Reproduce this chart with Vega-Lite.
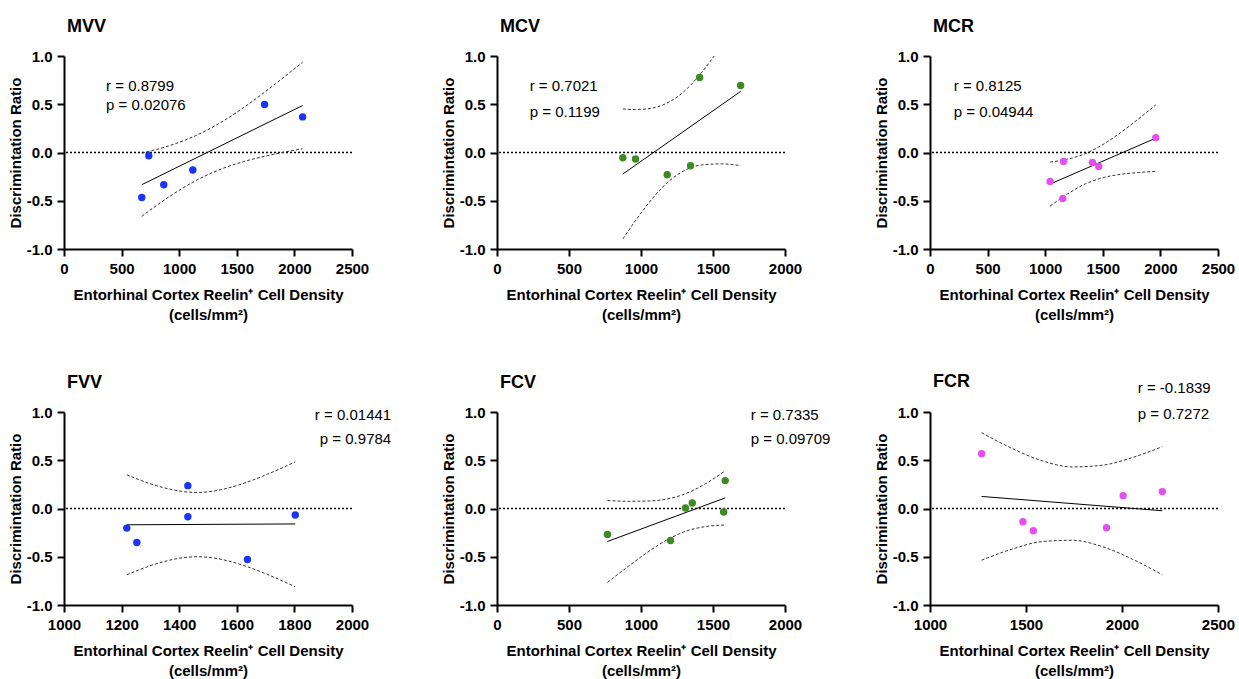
{
"$schema":"https://vega.github.io/schema/vega-lite/v6.json",
"background":"white",
"padding":{"left":8,"top":18,"right":5,"bottom":5},
"config":{
 "view":{"stroke":null},
 "font":"Liberation Sans",
 "axis":{"domainColor":"black","domainWidth":2,"tickColor":"black","tickWidth":2,"tickSize":7,"labelPadding":5,"labelFont":"Liberation Sans","labelFontWeight":"bold","labelFontSize":15,"labelColor":"black","titleFont":"Liberation Sans","titleFontWeight":"bold","titleFontSize":15,"titleColor":"black","grid":false,"labelFlush":false,"labelOverlap":false},
 "axisX":{"titleLineHeight":20,"titlePadding":11},
 "axisY":{"titlePadding":3},
 "title":{"anchor":"start","frame":"group","font":"Liberation Sans","fontSize":18,"fontWeight":"bold","color":"black","offset":13,"dx":3}
},
"datasets":{
 "pts":[
  {"panel":"MVV","x":675,"y":-0.466},{"panel":"MVV","x":736,"y":-0.033},{"panel":"MVV","x":866,"y":-0.334},{"panel":"MVV","x":1118,"y":-0.182},{"panel":"MVV","x":1741,"y":0.497},{"panel":"MVV","x":2071,"y":0.369},
  {"panel":"MCV","x":874,"y":-0.054},{"panel":"MCV","x":962,"y":-0.068},{"panel":"MCV","x":1182,"y":-0.230},{"panel":"MCV","x":1344,"y":-0.137},{"panel":"MCV","x":1407,"y":0.778},{"panel":"MCV","x":1692,"y":0.695},
  {"panel":"MCR","x":1043,"y":-0.300},{"panel":"MCR","x":1159,"y":-0.092},{"panel":"MCR","x":1153,"y":-0.477},{"panel":"MCR","x":1410,"y":-0.102},{"panel":"MCR","x":1465,"y":-0.144},{"panel":"MCR","x":1960,"y":0.154},
  {"panel":"FVV","x":1218,"y":-0.203},{"panel":"FVV","x":1253,"y":-0.352},{"panel":"FVV","x":1430,"y":0.237},{"panel":"FVV","x":1430,"y":-0.085},{"panel":"FVV","x":1637,"y":-0.529},{"panel":"FVV","x":1803,"y":-0.068},
  {"panel":"FCV","x":767,"y":-0.269},{"panel":"FCV","x":1205,"y":-0.331},{"panel":"FCV","x":1309,"y":0.005},{"panel":"FCV","x":1356,"y":0.057},{"panel":"FCV","x":1574,"y":-0.036},{"panel":"FCV","x":1585,"y":0.289},
  {"panel":"FCR","x":1269,"y":0.567},{"panel":"FCR","x":1484,"y":-0.137},{"panel":"FCR","x":1538,"y":-0.230},{"panel":"FCR","x":1919,"y":-0.199},{"panel":"FCR","x":2006,"y":0.133},{"panel":"FCR","x":2210,"y":0.175}
 ],
 "lines":[
  {"panel":"MVV","kind":"fit","x":675,"y":-0.334},{"panel":"MVV","kind":"fit","x":2071,"y":0.487},
  {"panel":"MVV","kind":"upper","x":675,"y":-0.006},{"panel":"MVV","kind":"upper","x":908,"y":0.068},{"panel":"MVV","kind":"upper","x":1140,"y":0.173},{"panel":"MVV","kind":"upper","x":1373,"y":0.320},{"panel":"MVV","kind":"upper","x":1606,"y":0.505},{"panel":"MVV","kind":"upper","x":1838,"y":0.714},{"panel":"MVV","kind":"upper","x":2071,"y":0.935},
  {"panel":"MVV","kind":"lower","x":675,"y":-0.662},{"panel":"MVV","kind":"lower","x":908,"y":-0.462},{"panel":"MVV","kind":"lower","x":1140,"y":-0.294},{"panel":"MVV","kind":"lower","x":1373,"y":-0.168},{"panel":"MVV","kind":"lower","x":1606,"y":-0.079},{"panel":"MVV","kind":"lower","x":1838,"y":-0.014},{"panel":"MVV","kind":"lower","x":2071,"y":0.039},
  {"panel":"MCV","kind":"fit","x":874,"y":-0.223},{"panel":"MCV","kind":"fit","x":1692,"y":0.633},
  {"panel":"MCV","kind":"upper","x":874,"y":0.451},{"panel":"MCV","kind":"upper","x":940,"y":0.446},{"panel":"MCV","kind":"upper","x":1010,"y":0.448},{"panel":"MCV","kind":"upper","x":1080,"y":0.461},{"panel":"MCV","kind":"upper","x":1147,"y":0.490},{"panel":"MCV","kind":"upper","x":1283,"y":0.612},{"panel":"MCV","kind":"upper","x":1419,"y":0.825},{"panel":"MCV","kind":"upper","x":1480,"y":0.942},{"panel":"MCV","kind":"upper","x":1508,"y":1.0},
  {"panel":"MCV","kind":"lower","x":874,"y":-0.896},{"panel":"MCV","kind":"lower","x":940,"y":-0.752},{"panel":"MCV","kind":"lower","x":1010,"y":-0.608},{"panel":"MCV","kind":"lower","x":1080,"y":-0.475},{"panel":"MCV","kind":"lower","x":1147,"y":-0.364},{"panel":"MCV","kind":"lower","x":1283,"y":-0.202},{"panel":"MCV","kind":"lower","x":1419,"y":-0.129},{"panel":"MCV","kind":"lower","x":1556,"y":-0.118},{"panel":"MCV","kind":"lower","x":1692,"y":-0.136},
  {"panel":"MCR","kind":"fit","x":1043,"y":-0.327},{"panel":"MCR","kind":"fit","x":1960,"y":0.149},
  {"panel":"MCR","kind":"upper","x":1043,"y":-0.099},{"panel":"MCR","kind":"upper","x":1196,"y":-0.069},{"panel":"MCR","kind":"upper","x":1349,"y":-0.011},{"panel":"MCR","kind":"upper","x":1502,"y":0.083},{"panel":"MCR","kind":"upper","x":1654,"y":0.206},{"panel":"MCR","kind":"upper","x":1807,"y":0.346},{"panel":"MCR","kind":"upper","x":1960,"y":0.493},
  {"panel":"MCR","kind":"lower","x":1043,"y":-0.555},{"panel":"MCR","kind":"lower","x":1196,"y":-0.428},{"panel":"MCR","kind":"lower","x":1349,"y":-0.325},{"panel":"MCR","kind":"lower","x":1502,"y":-0.261},{"panel":"MCR","kind":"lower","x":1654,"y":-0.226},{"panel":"MCR","kind":"lower","x":1807,"y":-0.208},{"panel":"MCR","kind":"lower","x":1960,"y":-0.195},
  {"panel":"FVV","kind":"fit","x":1218,"y":-0.169},{"panel":"FVV","kind":"fit","x":1803,"y":-0.160},
  {"panel":"FVV","kind":"upper","x":1218,"y":0.349},{"panel":"FVV","kind":"upper","x":1316,"y":0.241},{"panel":"FVV","kind":"upper","x":1413,"y":0.176},{"panel":"FVV","kind":"upper","x":1462,"y":0.166},{"panel":"FVV","kind":"upper","x":1511,"y":0.177},{"panel":"FVV","kind":"upper","x":1608,"y":0.245},{"panel":"FVV","kind":"upper","x":1706,"y":0.355},{"panel":"FVV","kind":"upper","x":1803,"y":0.483},
  {"panel":"FVV","kind":"lower","x":1218,"y":-0.687},{"panel":"FVV","kind":"lower","x":1316,"y":-0.577},{"panel":"FVV","kind":"lower","x":1413,"y":-0.510},{"panel":"FVV","kind":"lower","x":1462,"y":-0.500},{"panel":"FVV","kind":"lower","x":1511,"y":-0.509},{"panel":"FVV","kind":"lower","x":1608,"y":-0.575},{"panel":"FVV","kind":"lower","x":1706,"y":-0.683},{"panel":"FVV","kind":"lower","x":1803,"y":-0.811},
  {"panel":"FCV","kind":"fit","x":767,"y":-0.342},{"panel":"FCV","kind":"fit","x":1585,"y":0.110},
  {"panel":"FCV","kind":"upper","x":767,"y":0.083},{"panel":"FCV","kind":"upper","x":903,"y":0.075},{"panel":"FCV","kind":"upper","x":1040,"y":0.077},{"panel":"FCV","kind":"upper","x":1176,"y":0.097},{"panel":"FCV","kind":"upper","x":1312,"y":0.155},{"panel":"FCV","kind":"upper","x":1449,"y":0.257},{"panel":"FCV","kind":"upper","x":1585,"y":0.391},
  {"panel":"FCV","kind":"lower","x":767,"y":-0.766},{"panel":"FCV","kind":"lower","x":903,"y":-0.609},{"panel":"FCV","kind":"lower","x":1040,"y":-0.459},{"panel":"FCV","kind":"lower","x":1176,"y":-0.329},{"panel":"FCV","kind":"lower","x":1312,"y":-0.235},{"panel":"FCV","kind":"lower","x":1449,"y":-0.187},{"panel":"FCV","kind":"lower","x":1585,"y":-0.171},
  {"panel":"FCR","kind":"fit","x":1269,"y":0.125},{"panel":"FCR","kind":"fit","x":2210,"y":-0.023},
  {"panel":"FCR","kind":"upper","x":1269,"y":0.785},{"panel":"FCR","kind":"upper","x":1426,"y":0.624},{"panel":"FCR","kind":"upper","x":1583,"y":0.495},{"panel":"FCR","kind":"upper","x":1740,"y":0.431},{"panel":"FCR","kind":"upper","x":1896,"y":0.448},{"panel":"FCR","kind":"upper","x":2053,"y":0.527},{"panel":"FCR","kind":"upper","x":2210,"y":0.641},
  {"panel":"FCR","kind":"lower","x":1269,"y":-0.535},{"panel":"FCR","kind":"lower","x":1426,"y":-0.422},{"panel":"FCR","kind":"lower","x":1583,"y":-0.343},{"panel":"FCR","kind":"lower","x":1740,"y":-0.329},{"panel":"FCR","kind":"lower","x":1896,"y":-0.394},{"panel":"FCR","kind":"lower","x":2053,"y":-0.524},{"panel":"FCR","kind":"lower","x":2210,"y":-0.687}
 ],
 "txt":[
  {"panel":"MVV","x":365,"y":0.64,"label":"r = 0.8799"},{"panel":"MVV","x":365,"y":0.44,"label":"p = 0.02076"},
  {"panel":"MCV","x":227,"y":0.634,"label":"r = 0.7021"},{"panel":"MCV","x":227,"y":0.365,"label":"p = 0.1199"},
  {"panel":"MCR","x":206,"y":0.634,"label":"r = 0.8125"},{"panel":"MCR","x":206,"y":0.365,"label":"p = 0.04944"},
  {"panel":"FVV","x":2136,"y":0.92,"label":"r = 0.01441"},{"panel":"FVV","x":2136,"y":0.67,"label":"p = 0.9784"},
  {"panel":"FCV","x":1762,"y":0.92,"label":"r = 0.7335"},{"panel":"FCV","x":1762,"y":0.67,"label":"p = 0.09709"},
  {"panel":"FCR","x":2082,"y":1.197,"label":"r = -0.1839"},{"panel":"FCR","x":2082,"y":0.923,"label":"p = 0.7272"}
 ]
},
"columns":3,
"spacing":{"row":163,"column":145},
"bounds":"flush",
"concat":[
 {"width":288,"height":193,"title":{"text":"MVV"},
  "layer":[
   {"data":{"values":[{"y":0}]},"mark":{"type":"rule","strokeDash":[2,2],"strokeWidth":1.5,"color":"black"},"encoding":{"y":{"field":"y","type":"quantitative","scale":{"domain":[-1,1],"nice":false},"axis":{"values":[-1,-0.5,0,0.5,1],"labelExpr":"datum.value < 0 ? '-' + format(-datum.value, '.1f') : format(datum.value, '.1f')","title":"Discrimintation Ratio"}}}},
   {"data":{"name":"lines"},"transform":[{"filter":"datum.panel==='MVV' && datum.kind!=='fit'"}],"mark":{"type":"line","interpolate":"monotone","strokeDash":[3,2],"strokeWidth":1,"color":"#333333"},"encoding":{"x":{"field":"x","type":"quantitative","scale":{"domain":[0,2500],"nice":false,"zero":false},"axis":{"values":[0,500,1000,1500,2000,2500],"format":"d","title":["Entorhinal Cortex Reelin⁺ Cell Density","(cells/mm²)"]}},"y":{"field":"y","type":"quantitative","scale":{"domain":[-1,1],"nice":false},"axis":{"values":[-1,-0.5,0,0.5,1],"labelExpr":"datum.value < 0 ? '-' + format(-datum.value, '.1f') : format(datum.value, '.1f')","title":"Discrimintation Ratio"}},"detail":{"field":"kind"}}},
   {"data":{"name":"lines"},"transform":[{"filter":"datum.panel==='MVV' && datum.kind==='fit'"}],"mark":{"type":"line","strokeWidth":1,"color":"black"},"encoding":{"x":{"field":"x","type":"quantitative","scale":{"domain":[0,2500],"nice":false,"zero":false},"axis":{"values":[0,500,1000,1500,2000,2500],"format":"d","title":["Entorhinal Cortex Reelin⁺ Cell Density","(cells/mm²)"]}},"y":{"field":"y","type":"quantitative","scale":{"domain":[-1,1],"nice":false},"axis":{"values":[-1,-0.5,0,0.5,1],"labelExpr":"datum.value < 0 ? '-' + format(-datum.value, '.1f') : format(datum.value, '.1f')","title":"Discrimintation Ratio"}}}},
   {"data":{"name":"pts"},"transform":[{"filter":"datum.panel==='MVV'"}],"mark":{"type":"circle","size":55,"opacity":1,"color":"#1b34f2"},"encoding":{"x":{"field":"x","type":"quantitative","scale":{"domain":[0,2500],"nice":false,"zero":false},"axis":{"values":[0,500,1000,1500,2000,2500],"format":"d","title":["Entorhinal Cortex Reelin⁺ Cell Density","(cells/mm²)"]}},"y":{"field":"y","type":"quantitative","scale":{"domain":[-1,1],"nice":false},"axis":{"values":[-1,-0.5,0,0.5,1],"labelExpr":"datum.value < 0 ? '-' + format(-datum.value, '.1f') : format(datum.value, '.1f')","title":"Discrimintation Ratio"}}}},
   {"data":{"name":"txt"},"transform":[{"filter":"datum.panel==='MVV'"}],"mark":{"type":"text","align":"left","baseline":"alphabetic","fontSize":15,"font":"Liberation Sans","color":"black"},"encoding":{"x":{"field":"x","type":"quantitative","scale":{"domain":[0,2500],"nice":false,"zero":false},"axis":{"values":[0,500,1000,1500,2000,2500],"format":"d","title":["Entorhinal Cortex Reelin⁺ Cell Density","(cells/mm²)"]}},"y":{"field":"y","type":"quantitative","scale":{"domain":[-1,1],"nice":false},"axis":{"values":[-1,-0.5,0,0.5,1],"labelExpr":"datum.value < 0 ? '-' + format(-datum.value, '.1f') : format(datum.value, '.1f')","title":"Discrimintation Ratio"}},"text":{"field":"label"}}}
  ]},
 {"width":288,"height":193,"title":{"text":"MCV"},
  "layer":[
   {"data":{"values":[{"y":0}]},"mark":{"type":"rule","strokeDash":[2,2],"strokeWidth":1.5,"color":"black"},"encoding":{"y":{"field":"y","type":"quantitative","scale":{"domain":[-1,1],"nice":false},"axis":{"values":[-1,-0.5,0,0.5,1],"labelExpr":"datum.value < 0 ? '-' + format(-datum.value, '.1f') : format(datum.value, '.1f')","title":"Discrimintation Ratio"}}}},
   {"data":{"name":"lines"},"transform":[{"filter":"datum.panel==='MCV' && datum.kind!=='fit'"}],"mark":{"type":"line","interpolate":"monotone","strokeDash":[3,2],"strokeWidth":1,"color":"#333333"},"encoding":{"x":{"field":"x","type":"quantitative","scale":{"domain":[0,2000],"nice":false,"zero":false},"axis":{"values":[0,500,1000,1500,2000],"format":"d","title":["Entorhinal Cortex Reelin⁺ Cell Density","(cells/mm²)"]}},"y":{"field":"y","type":"quantitative","scale":{"domain":[-1,1],"nice":false},"axis":{"values":[-1,-0.5,0,0.5,1],"labelExpr":"datum.value < 0 ? '-' + format(-datum.value, '.1f') : format(datum.value, '.1f')","title":"Discrimintation Ratio"}},"detail":{"field":"kind"}}},
   {"data":{"name":"lines"},"transform":[{"filter":"datum.panel==='MCV' && datum.kind==='fit'"}],"mark":{"type":"line","strokeWidth":1,"color":"black"},"encoding":{"x":{"field":"x","type":"quantitative","scale":{"domain":[0,2000],"nice":false,"zero":false},"axis":{"values":[0,500,1000,1500,2000],"format":"d","title":["Entorhinal Cortex Reelin⁺ Cell Density","(cells/mm²)"]}},"y":{"field":"y","type":"quantitative","scale":{"domain":[-1,1],"nice":false},"axis":{"values":[-1,-0.5,0,0.5,1],"labelExpr":"datum.value < 0 ? '-' + format(-datum.value, '.1f') : format(datum.value, '.1f')","title":"Discrimintation Ratio"}}}},
   {"data":{"name":"pts"},"transform":[{"filter":"datum.panel==='MCV'"}],"mark":{"type":"circle","size":55,"opacity":1,"color":"#3b8a22"},"encoding":{"x":{"field":"x","type":"quantitative","scale":{"domain":[0,2000],"nice":false,"zero":false},"axis":{"values":[0,500,1000,1500,2000],"format":"d","title":["Entorhinal Cortex Reelin⁺ Cell Density","(cells/mm²)"]}},"y":{"field":"y","type":"quantitative","scale":{"domain":[-1,1],"nice":false},"axis":{"values":[-1,-0.5,0,0.5,1],"labelExpr":"datum.value < 0 ? '-' + format(-datum.value, '.1f') : format(datum.value, '.1f')","title":"Discrimintation Ratio"}}}},
   {"data":{"name":"txt"},"transform":[{"filter":"datum.panel==='MCV'"}],"mark":{"type":"text","align":"left","baseline":"alphabetic","fontSize":15,"font":"Liberation Sans","color":"black"},"encoding":{"x":{"field":"x","type":"quantitative","scale":{"domain":[0,2000],"nice":false,"zero":false},"axis":{"values":[0,500,1000,1500,2000],"format":"d","title":["Entorhinal Cortex Reelin⁺ Cell Density","(cells/mm²)"]}},"y":{"field":"y","type":"quantitative","scale":{"domain":[-1,1],"nice":false},"axis":{"values":[-1,-0.5,0,0.5,1],"labelExpr":"datum.value < 0 ? '-' + format(-datum.value, '.1f') : format(datum.value, '.1f')","title":"Discrimintation Ratio"}},"text":{"field":"label"}}}
  ]},
 {"width":288,"height":193,"title":{"text":"MCR"},
  "layer":[
   {"data":{"values":[{"y":0}]},"mark":{"type":"rule","strokeDash":[2,2],"strokeWidth":1.5,"color":"black"},"encoding":{"y":{"field":"y","type":"quantitative","scale":{"domain":[-1,1],"nice":false},"axis":{"values":[-1,-0.5,0,0.5,1],"labelExpr":"datum.value < 0 ? '-' + format(-datum.value, '.1f') : format(datum.value, '.1f')","title":"Discrimintation Ratio"}}}},
   {"data":{"name":"lines"},"transform":[{"filter":"datum.panel==='MCR' && datum.kind!=='fit'"}],"mark":{"type":"line","interpolate":"monotone","strokeDash":[3,2],"strokeWidth":1,"color":"#333333"},"encoding":{"x":{"field":"x","type":"quantitative","scale":{"domain":[0,2500],"nice":false,"zero":false},"axis":{"values":[0,500,1000,1500,2000,2500],"format":"d","title":["Entorhinal Cortex Reelin⁺ Cell Density","(cells/mm²)"]}},"y":{"field":"y","type":"quantitative","scale":{"domain":[-1,1],"nice":false},"axis":{"values":[-1,-0.5,0,0.5,1],"labelExpr":"datum.value < 0 ? '-' + format(-datum.value, '.1f') : format(datum.value, '.1f')","title":"Discrimintation Ratio"}},"detail":{"field":"kind"}}},
   {"data":{"name":"lines"},"transform":[{"filter":"datum.panel==='MCR' && datum.kind==='fit'"}],"mark":{"type":"line","strokeWidth":1,"color":"black"},"encoding":{"x":{"field":"x","type":"quantitative","scale":{"domain":[0,2500],"nice":false,"zero":false},"axis":{"values":[0,500,1000,1500,2000,2500],"format":"d","title":["Entorhinal Cortex Reelin⁺ Cell Density","(cells/mm²)"]}},"y":{"field":"y","type":"quantitative","scale":{"domain":[-1,1],"nice":false},"axis":{"values":[-1,-0.5,0,0.5,1],"labelExpr":"datum.value < 0 ? '-' + format(-datum.value, '.1f') : format(datum.value, '.1f')","title":"Discrimintation Ratio"}}}},
   {"data":{"name":"pts"},"transform":[{"filter":"datum.panel==='MCR'"}],"mark":{"type":"circle","size":55,"opacity":1,"color":"#e54ff0"},"encoding":{"x":{"field":"x","type":"quantitative","scale":{"domain":[0,2500],"nice":false,"zero":false},"axis":{"values":[0,500,1000,1500,2000,2500],"format":"d","title":["Entorhinal Cortex Reelin⁺ Cell Density","(cells/mm²)"]}},"y":{"field":"y","type":"quantitative","scale":{"domain":[-1,1],"nice":false},"axis":{"values":[-1,-0.5,0,0.5,1],"labelExpr":"datum.value < 0 ? '-' + format(-datum.value, '.1f') : format(datum.value, '.1f')","title":"Discrimintation Ratio"}}}},
   {"data":{"name":"txt"},"transform":[{"filter":"datum.panel==='MCR'"}],"mark":{"type":"text","align":"left","baseline":"alphabetic","fontSize":15,"font":"Liberation Sans","color":"black"},"encoding":{"x":{"field":"x","type":"quantitative","scale":{"domain":[0,2500],"nice":false,"zero":false},"axis":{"values":[0,500,1000,1500,2000,2500],"format":"d","title":["Entorhinal Cortex Reelin⁺ Cell Density","(cells/mm²)"]}},"y":{"field":"y","type":"quantitative","scale":{"domain":[-1,1],"nice":false},"axis":{"values":[-1,-0.5,0,0.5,1],"labelExpr":"datum.value < 0 ? '-' + format(-datum.value, '.1f') : format(datum.value, '.1f')","title":"Discrimintation Ratio"}},"text":{"field":"label"}}}
  ]},
 {"width":288,"height":193,"title":{"text":"FVV"},
  "layer":[
   {"data":{"values":[{"y":0}]},"mark":{"type":"rule","strokeDash":[2,2],"strokeWidth":1.5,"color":"black"},"encoding":{"y":{"field":"y","type":"quantitative","scale":{"domain":[-1,1],"nice":false},"axis":{"values":[-1,-0.5,0,0.5,1],"labelExpr":"datum.value < 0 ? '-' + format(-datum.value, '.1f') : format(datum.value, '.1f')","title":"Discrimintation Ratio"}}}},
   {"data":{"name":"lines"},"transform":[{"filter":"datum.panel==='FVV' && datum.kind!=='fit'"}],"mark":{"type":"line","interpolate":"monotone","strokeDash":[3,2],"strokeWidth":1,"color":"#333333"},"encoding":{"x":{"field":"x","type":"quantitative","scale":{"domain":[1000,2000],"nice":false,"zero":false},"axis":{"values":[1000,1200,1400,1600,1800,2000],"format":"d","title":["Entorhinal Cortex Reelin⁺ Cell Density","(cells/mm²)"]}},"y":{"field":"y","type":"quantitative","scale":{"domain":[-1,1],"nice":false},"axis":{"values":[-1,-0.5,0,0.5,1],"labelExpr":"datum.value < 0 ? '-' + format(-datum.value, '.1f') : format(datum.value, '.1f')","title":"Discrimintation Ratio"}},"detail":{"field":"kind"}}},
   {"data":{"name":"lines"},"transform":[{"filter":"datum.panel==='FVV' && datum.kind==='fit'"}],"mark":{"type":"line","strokeWidth":1,"color":"black"},"encoding":{"x":{"field":"x","type":"quantitative","scale":{"domain":[1000,2000],"nice":false,"zero":false},"axis":{"values":[1000,1200,1400,1600,1800,2000],"format":"d","title":["Entorhinal Cortex Reelin⁺ Cell Density","(cells/mm²)"]}},"y":{"field":"y","type":"quantitative","scale":{"domain":[-1,1],"nice":false},"axis":{"values":[-1,-0.5,0,0.5,1],"labelExpr":"datum.value < 0 ? '-' + format(-datum.value, '.1f') : format(datum.value, '.1f')","title":"Discrimintation Ratio"}}}},
   {"data":{"name":"pts"},"transform":[{"filter":"datum.panel==='FVV'"}],"mark":{"type":"circle","size":55,"opacity":1,"color":"#1b34f2"},"encoding":{"x":{"field":"x","type":"quantitative","scale":{"domain":[1000,2000],"nice":false,"zero":false},"axis":{"values":[1000,1200,1400,1600,1800,2000],"format":"d","title":["Entorhinal Cortex Reelin⁺ Cell Density","(cells/mm²)"]}},"y":{"field":"y","type":"quantitative","scale":{"domain":[-1,1],"nice":false},"axis":{"values":[-1,-0.5,0,0.5,1],"labelExpr":"datum.value < 0 ? '-' + format(-datum.value, '.1f') : format(datum.value, '.1f')","title":"Discrimintation Ratio"}}}},
   {"data":{"name":"txt"},"transform":[{"filter":"datum.panel==='FVV'"}],"mark":{"type":"text","align":"right","baseline":"alphabetic","fontSize":15,"font":"Liberation Sans","color":"black"},"encoding":{"x":{"field":"x","type":"quantitative","scale":{"domain":[1000,2000],"nice":false,"zero":false},"axis":{"values":[1000,1200,1400,1600,1800,2000],"format":"d","title":["Entorhinal Cortex Reelin⁺ Cell Density","(cells/mm²)"]}},"y":{"field":"y","type":"quantitative","scale":{"domain":[-1,1],"nice":false},"axis":{"values":[-1,-0.5,0,0.5,1],"labelExpr":"datum.value < 0 ? '-' + format(-datum.value, '.1f') : format(datum.value, '.1f')","title":"Discrimintation Ratio"}},"text":{"field":"label"}}}
  ]},
 {"width":288,"height":193,"title":{"text":"FCV"},
  "layer":[
   {"data":{"values":[{"y":0}]},"mark":{"type":"rule","strokeDash":[2,2],"strokeWidth":1.5,"color":"black"},"encoding":{"y":{"field":"y","type":"quantitative","scale":{"domain":[-1,1],"nice":false},"axis":{"values":[-1,-0.5,0,0.5,1],"labelExpr":"datum.value < 0 ? '-' + format(-datum.value, '.1f') : format(datum.value, '.1f')","title":"Discrimintation Ratio"}}}},
   {"data":{"name":"lines"},"transform":[{"filter":"datum.panel==='FCV' && datum.kind!=='fit'"}],"mark":{"type":"line","interpolate":"monotone","strokeDash":[3,2],"strokeWidth":1,"color":"#333333"},"encoding":{"x":{"field":"x","type":"quantitative","scale":{"domain":[0,2000],"nice":false,"zero":false},"axis":{"values":[0,500,1000,1500,2000],"format":"d","title":["Entorhinal Cortex Reelin⁺ Cell Density","(cells/mm²)"]}},"y":{"field":"y","type":"quantitative","scale":{"domain":[-1,1],"nice":false},"axis":{"values":[-1,-0.5,0,0.5,1],"labelExpr":"datum.value < 0 ? '-' + format(-datum.value, '.1f') : format(datum.value, '.1f')","title":"Discrimintation Ratio"}},"detail":{"field":"kind"}}},
   {"data":{"name":"lines"},"transform":[{"filter":"datum.panel==='FCV' && datum.kind==='fit'"}],"mark":{"type":"line","strokeWidth":1,"color":"black"},"encoding":{"x":{"field":"x","type":"quantitative","scale":{"domain":[0,2000],"nice":false,"zero":false},"axis":{"values":[0,500,1000,1500,2000],"format":"d","title":["Entorhinal Cortex Reelin⁺ Cell Density","(cells/mm²)"]}},"y":{"field":"y","type":"quantitative","scale":{"domain":[-1,1],"nice":false},"axis":{"values":[-1,-0.5,0,0.5,1],"labelExpr":"datum.value < 0 ? '-' + format(-datum.value, '.1f') : format(datum.value, '.1f')","title":"Discrimintation Ratio"}}}},
   {"data":{"name":"pts"},"transform":[{"filter":"datum.panel==='FCV'"}],"mark":{"type":"circle","size":55,"opacity":1,"color":"#3b8a22"},"encoding":{"x":{"field":"x","type":"quantitative","scale":{"domain":[0,2000],"nice":false,"zero":false},"axis":{"values":[0,500,1000,1500,2000],"format":"d","title":["Entorhinal Cortex Reelin⁺ Cell Density","(cells/mm²)"]}},"y":{"field":"y","type":"quantitative","scale":{"domain":[-1,1],"nice":false},"axis":{"values":[-1,-0.5,0,0.5,1],"labelExpr":"datum.value < 0 ? '-' + format(-datum.value, '.1f') : format(datum.value, '.1f')","title":"Discrimintation Ratio"}}}},
   {"data":{"name":"txt"},"transform":[{"filter":"datum.panel==='FCV'"}],"mark":{"type":"text","align":"left","baseline":"alphabetic","fontSize":15,"font":"Liberation Sans","color":"black"},"encoding":{"x":{"field":"x","type":"quantitative","scale":{"domain":[0,2000],"nice":false,"zero":false},"axis":{"values":[0,500,1000,1500,2000],"format":"d","title":["Entorhinal Cortex Reelin⁺ Cell Density","(cells/mm²)"]}},"y":{"field":"y","type":"quantitative","scale":{"domain":[-1,1],"nice":false},"axis":{"values":[-1,-0.5,0,0.5,1],"labelExpr":"datum.value < 0 ? '-' + format(-datum.value, '.1f') : format(datum.value, '.1f')","title":"Discrimintation Ratio"}},"text":{"field":"label"}}}
  ]},
 {"width":288,"height":193,"title":{"text":"FCR","offset":-10},
  "layer":[
   {"data":{"values":[{"y":0}]},"mark":{"type":"rule","strokeDash":[2,2],"strokeWidth":1.5,"color":"black"},"encoding":{"y":{"field":"y","type":"quantitative","scale":{"domain":[-1,1],"nice":false},"axis":{"values":[-1,-0.5,0,0.5,1],"labelExpr":"datum.value < 0 ? '-' + format(-datum.value, '.1f') : format(datum.value, '.1f')","title":"Discrimintation Ratio"}}}},
   {"data":{"name":"lines"},"transform":[{"filter":"datum.panel==='FCR' && datum.kind!=='fit'"}],"mark":{"type":"line","interpolate":"monotone","strokeDash":[3,2],"strokeWidth":1,"color":"#333333"},"encoding":{"x":{"field":"x","type":"quantitative","scale":{"domain":[1000,2500],"nice":false,"zero":false},"axis":{"values":[1000,1500,2000,2500],"format":"d","title":["Entorhinal Cortex Reelin⁺ Cell Density","(cells/mm²)"]}},"y":{"field":"y","type":"quantitative","scale":{"domain":[-1,1],"nice":false},"axis":{"values":[-1,-0.5,0,0.5,1],"labelExpr":"datum.value < 0 ? '-' + format(-datum.value, '.1f') : format(datum.value, '.1f')","title":"Discrimintation Ratio"}},"detail":{"field":"kind"}}},
   {"data":{"name":"lines"},"transform":[{"filter":"datum.panel==='FCR' && datum.kind==='fit'"}],"mark":{"type":"line","strokeWidth":1,"color":"black"},"encoding":{"x":{"field":"x","type":"quantitative","scale":{"domain":[1000,2500],"nice":false,"zero":false},"axis":{"values":[1000,1500,2000,2500],"format":"d","title":["Entorhinal Cortex Reelin⁺ Cell Density","(cells/mm²)"]}},"y":{"field":"y","type":"quantitative","scale":{"domain":[-1,1],"nice":false},"axis":{"values":[-1,-0.5,0,0.5,1],"labelExpr":"datum.value < 0 ? '-' + format(-datum.value, '.1f') : format(datum.value, '.1f')","title":"Discrimintation Ratio"}}}},
   {"data":{"name":"pts"},"transform":[{"filter":"datum.panel==='FCR'"}],"mark":{"type":"circle","size":55,"opacity":1,"color":"#e54ff0"},"encoding":{"x":{"field":"x","type":"quantitative","scale":{"domain":[1000,2500],"nice":false,"zero":false},"axis":{"values":[1000,1500,2000,2500],"format":"d","title":["Entorhinal Cortex Reelin⁺ Cell Density","(cells/mm²)"]}},"y":{"field":"y","type":"quantitative","scale":{"domain":[-1,1],"nice":false},"axis":{"values":[-1,-0.5,0,0.5,1],"labelExpr":"datum.value < 0 ? '-' + format(-datum.value, '.1f') : format(datum.value, '.1f')","title":"Discrimintation Ratio"}}}},
   {"data":{"name":"txt"},"transform":[{"filter":"datum.panel==='FCR'"}],"mark":{"type":"text","align":"left","baseline":"alphabetic","fontSize":15,"font":"Liberation Sans","color":"black"},"encoding":{"x":{"field":"x","type":"quantitative","scale":{"domain":[1000,2500],"nice":false,"zero":false},"axis":{"values":[1000,1500,2000,2500],"format":"d","title":["Entorhinal Cortex Reelin⁺ Cell Density","(cells/mm²)"]}},"y":{"field":"y","type":"quantitative","scale":{"domain":[-1,1],"nice":false},"axis":{"values":[-1,-0.5,0,0.5,1],"labelExpr":"datum.value < 0 ? '-' + format(-datum.value, '.1f') : format(datum.value, '.1f')","title":"Discrimintation Ratio"}},"text":{"field":"label"}}}
  ]}
]
}
